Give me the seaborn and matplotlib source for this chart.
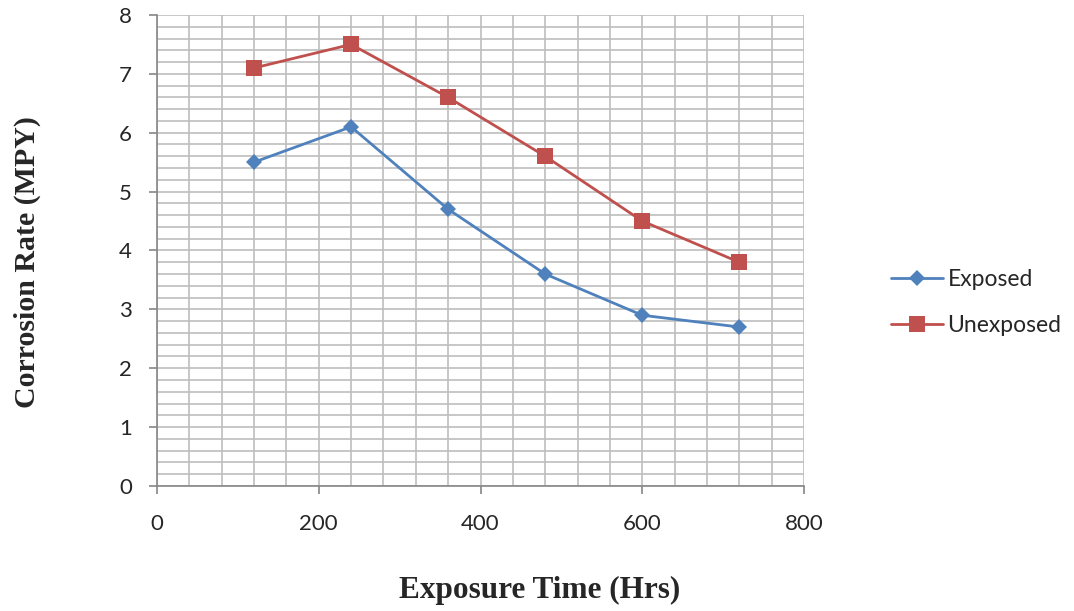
import matplotlib
matplotlib.use("Agg")
import matplotlib.pyplot as plt
from matplotlib.ticker import MultipleLocator
import seaborn as sns
import pandas as pd

hours = [120, 240, 360, 480, 600, 720]
exposed = [5.5, 6.1, 4.7, 3.6, 2.9, 2.7]
unexposed = [7.1, 7.5, 6.6, 5.6, 4.5, 3.8]
series_names = ["Exposed", "Unexposed"]

df = pd.DataFrame({
    "Hours": hours * 2,
    "Rate": exposed + unexposed,
    "Series": [series_names[0]] * len(hours) + [series_names[1]] * len(hours),
})

sns.set_style("white")
plt.rcParams["font.family"] = ["Lato", "DejaVu Sans"]

fig = plt.figure(figsize=(10.74, 6.11), dpi=100)
ax = fig.add_axes([0.1462, 0.2046, 0.6024, 0.7709])

palette = {"Exposed": "#4F81BD", "Unexposed": "#C0504D"}
markers = {"Exposed": "D", "Unexposed": "s"}
sns.lineplot(data=df, x="Hours", y="Rate", hue="Series", style="Series",
             palette=palette, markers=markers, dashes=False, linewidth=2,
             markersize=9, markeredgewidth=0, ax=ax, zorder=3)
for line in ax.lines:
    if line.get_marker() == "D":
        line.set_markersize(8)
    else:
        line.set_markersize(11)

ax.set_xlim(0, 800)
ax.set_ylim(0, 8)
ax.xaxis.set_major_locator(MultipleLocator(200))
ax.xaxis.set_minor_locator(MultipleLocator(40))
ax.yaxis.set_major_locator(MultipleLocator(1))
ax.yaxis.set_minor_locator(MultipleLocator(0.2))
ax.grid(which="both", color="#BEBEBE", linewidth=1.2)
ax.set_axisbelow(True)
for s in ["top", "right"]:
    ax.spines[s].set_visible(False)
for s in ["left", "bottom"]:
    ax.spines[s].set_color("#868686")
    ax.spines[s].set_linewidth(1.2)
ax.tick_params(which="major", direction="out", length=6, width=1.2,
               color="#868686", labelsize=16, left=True, bottom=True)
ax.tick_params(axis="x", which="major", pad=14)
ax.tick_params(axis="y", which="major", pad=12)
ax.tick_params(which="minor", length=0)

ax.set_xlabel("Exposure Time (Hrs)", fontsize=22.5, fontweight="bold",
              family="Liberation Serif")
ax.set_ylabel("Corrosion Rate (MPY)", fontsize=21.5, fontweight="bold",
              family="Liberation Serif")
ax.xaxis.set_label_coords(0.592, -0.19)
ax.yaxis.set_label_coords(-0.18, 0.476)

handles, labels = ax.get_legend_handles_labels()
ax.legend(handles, labels, loc="center left", bbox_to_anchor=(1.103, 0.39),
          frameon=False, fontsize=16.5, handlelength=2.25, labelspacing=1.1,
          handletextpad=0.2)

fig.savefig("out.png", dpi=100)
